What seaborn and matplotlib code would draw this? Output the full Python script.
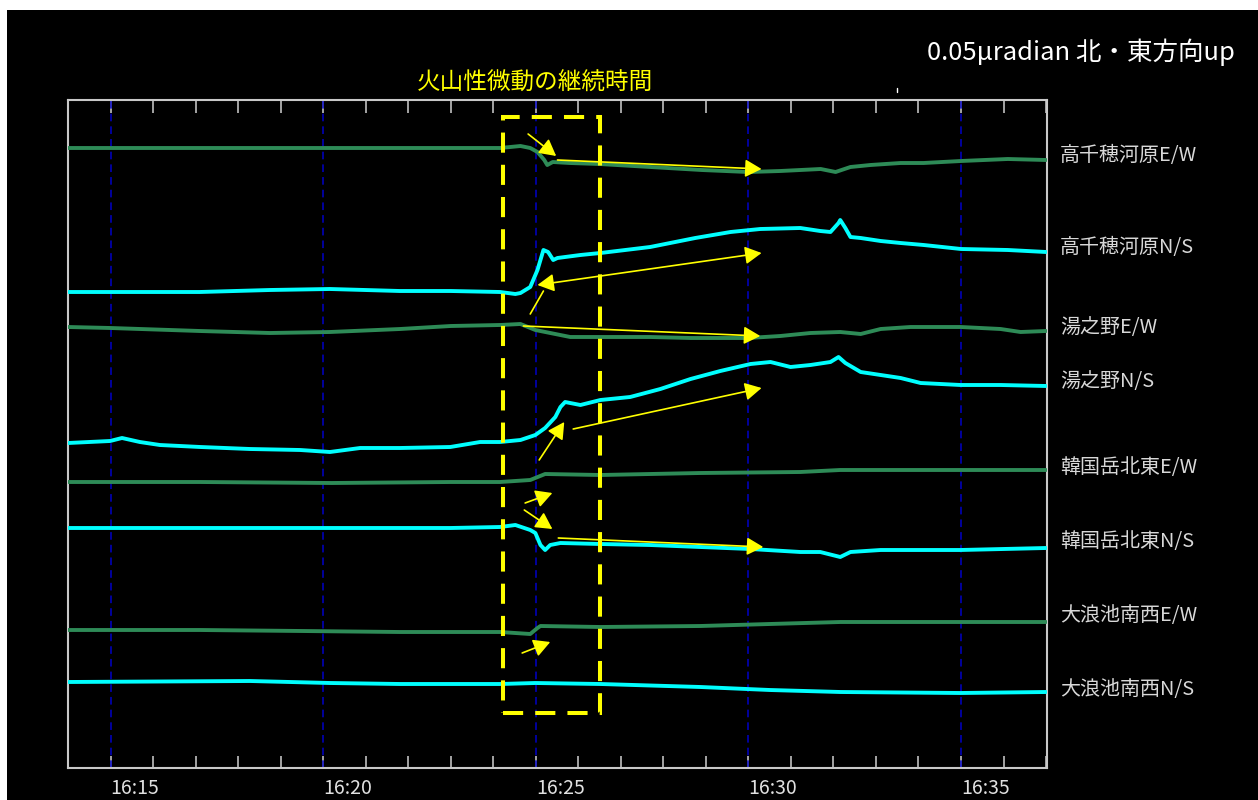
import numpy as np
import pandas as pd
import matplotlib
matplotlib.use("Agg")
import matplotlib.pyplot as plt
import seaborn as sns
from matplotlib.patches import Rectangle, FancyArrowPatch
from matplotlib.lines import Line2D
from matplotlib.ticker import MultipleLocator, FixedLocator

sns.set_style("dark")
plt.rcParams['font.family'] = ['Noto Sans CJK JP', 'DejaVu Sans']

# ---------------- data (minutes after 16:00, tilt in arbitrary display units, up = N/E) ----
STATIONS = ["高千穂河原E/W", "高千穂河原N/S", "湯之野E/W", "湯之野N/S",
            "韓国岳北東E/W", "韓国岳北東N/S", "大浪池南西E/W", "大浪池南西N/S"]

T1 = [14.0, 15.0, 17.1, 19.5, 21.8, 24.16, 24.64, 24.87, 25.04, 25.2, 25.27, 25.4, 25.8,
      26.5, 27.7, 28.9, 30.0, 30.75, 31.7, 32.05, 32.4, 32.87, 33.58, 34.12, 35.0, 36.1, 37.0]
V1 = [0, 0, 0, 0, 0, 0, 2, 0, -4, -12, -17, -14, -15, -16, -19, -22, -24, -23, -21, -24,
      -19, -17, -15, -15, -13, -11, -12]

T2 = [14.0, 15.0, 17.1, 18.75, 20.16, 21.8, 23.0, 24.16, 24.52, 24.64, 24.87, 25.04, 25.18,
      25.29, 25.41, 25.51, 26.05, 26.52, 27.69, 28.75, 29.58, 30.28, 31.22, 31.69, 31.93,
      32.12, 32.16, 32.28, 32.40, 32.64, 33.11, 33.58, 34.12, 35.0, 36.1, 37.0]
V2 = [0, 0, 0, 2, 3, 1, 1, 0, -2, -1, 5, 22, 42, 40, 32, 34, 37, 39, 45, 54, 60, 63, 64, 61,
      60, 69, 72, 64, 55, 54, 51, 49, 47, 43, 42, 40]

T3 = [14.0, 15.0, 17.1, 18.75, 20.16, 21.81, 23.0, 24.16, 24.64, 24.99, 25.81, 26.52, 27.69,
      28.64, 30.0, 30.75, 31.46, 32.16, 32.64, 33.11, 33.81, 34.99, 35.93, 36.4, 37.0]
V3 = [0, -1, -4, -6, -5, -2, 1, 2, 3, -3, -10, -10, -10, -11, -11, -9, -6, -5, -7, -2, 0, 0,
      -2, -5, -4]

T4 = [14.0, 14.99, 15.27, 15.69, 16.16, 17.11, 18.28, 19.46, 20.16, 20.87, 21.81, 22.99,
      23.69, 24.16, 24.64, 24.99, 25.22, 25.46, 25.58, 25.69, 26.05, 26.52, 27.22, 27.93,
      28.64, 29.34, 30.05, 30.52, 30.99, 31.46, 31.93, 32.12, 32.28, 32.64, 33.11, 33.58,
      34.05, 34.99, 35.93, 37.0]
V4 = [0, 2, 5, 1, -2, -4, -6, -7, -9, -5, -5, -4, 1, 1, 3, 8, 15, 26, 36, 41, 38, 43, 46, 54,
      64, 72, 79, 81, 76, 78, 81, 86, 80, 71, 68, 65, 60, 58, 58, 57]

T5 = [14.0, 17.1, 20.2, 23.0, 24.16, 24.87, 25.22, 26.52, 28.87, 31.22, 32.16, 37.0]
V5 = [0, 0, -1, 0, 0, 2, 8, 7, 9, 10, 12, 12]

T6 = [14.0, 17.1, 20.2, 23.0, 24.16, 24.52, 24.87, 24.99, 25.11, 25.22, 25.34, 25.58, 26.52,
      27.69, 28.87, 30.05, 31.22, 31.69, 32.16, 32.40, 33.11, 34.99, 37.0]
V6 = [0, 0, 0, 0, 1, 3, -2, -5, -17, -22, -17, -15, -16, -17, -19, -21, -24, -24, -29, -24,
      -22, -22, -20]

T7 = [14.0, 17.1, 19.5, 21.8, 24.16, 24.87, 25.04, 25.11, 26.52, 28.87, 30.5, 32.16, 34.99, 37.0]
V7 = [0, 0, -1, -2, -2, -4, 2, 4, 3, 4, 6, 8, 8, 8]

T8 = [14.0, 18.28, 20.16, 21.81, 24.16, 24.99, 26.52, 28.87, 30.5, 32.16, 34.99, 37.0]
V8 = [0, 1, -1, -2, -2, -1, -2, -5, -8, -10, -11, -10]

TIMES = [T1, T2, T3, T4, T5, T6, T7, T8]
VALUES = [V1, V2, V3, V4, V5, V6, V7, V8]

XTICK_MIN = [15, 20, 25, 30, 35]
XTICK_LABELS = ["16:15", "16:20", "16:25", "16:30", "16:35"]

TREMOR_START, TREMOR_END = 24.235, 26.52   # 火山性微動の継続時間 (minutes after 16:00)

# ---------------- layout / style ----------------
OFFSETS = [620, 476, 441, 325, 286, 240, 138, 86]       # trace baselines on the panel
LABEL_Y = [613, 520, 440, 386, 300, 226, 153, 79]        # right-hand label positions
GREEN, CYAN = "#2e8b57", "#00ffff"
COLORS = [GREEN, CYAN] * 4

# arrows: (t0, y0, t1, y1, style)
ARROWS = [
    (24.82, 634, 25.48, 612, "-|>"),
    (25.51, 608, 30.31, 599, "-|>"),
    (25.04, 483, 30.31, 515, "<|-|>"),
    (24.87, 454, 25.18, 477, "-"),
    (24.71, 442, 30.28, 432, "-|>"),
    (25.08, 308, 25.67, 346, "-|>"),
    (25.88, 339, 30.31, 380, "-|>"),
    (24.75, 265, 25.39, 275, "-|>"),
    (24.73, 258, 25.39, 239, "-|>"),
    (25.53, 230, 30.35, 221, "-|>"),
    (24.68, 115, 25.34, 126, "-|>"),
]

W, H = 1258, 800
fig = plt.figure(figsize=(W / 100, H / 100), dpi=100)
fig.patch.set_facecolor("white")
fig.add_artist(Rectangle((7 / W, 0), 1 - 7 / W, 790 / H, transform=fig.transFigure,
                         facecolor="black", edgecolor="none", zorder=-10))

ax = fig.add_axes([68 / W, 32 / H, 978.5 / W, 668 / H])
ax.set_facecolor("black")

rows = []
for name, t, v, off in zip(STATIONS, TIMES, VALUES, OFFSETS):
    for ti, vi in zip(t, v):
        rows.append({"minute": ti, "level": off + vi, "station": name})
df = pd.DataFrame(rows)

# 5-minute dashed blue guides
for m in XTICK_MIN:
    ax.axvline(m, color="#0000c8", lw=1.1, ls=(0, (5, 3.3)), zorder=1)

sns.lineplot(data=df, x="minute", y="level", hue="station", hue_order=STATIONS,
             palette=dict(zip(STATIONS, COLORS)), estimator=None, sort=False,
             legend=False, linewidth=2.8, ax=ax, zorder=3)

ax.set_xlim(14, 37.01)
ax.set_ylim(0, 668)
ax.set_xlabel("")
ax.set_ylabel("")
ax.set_yticks([])
ax.grid(False)

ax.xaxis.set_major_locator(FixedLocator(XTICK_MIN))
ax.xaxis.set_minor_locator(MultipleLocator(1))
ax.set_xticklabels(XTICK_LABELS, ha="left")
ax.tick_params(axis="x", which="both", direction="in", top=True, bottom=True,
               length=9, width=1.1, color="#d0d0d0", labelcolor="#e0e0e0",
               labelsize=14, pad=7)
for sp in ax.spines.values():
    sp.set_color("#c8c8c8")
    sp.set_linewidth(1.5)
    sp.set_visible(True)

# tremor-duration box
ax.add_patch(Rectangle((TREMOR_START, 55), TREMOR_END - TREMOR_START, 596, fill=False,
                       edgecolor="#ffff00", lw=2.9, ls=(0, (5, 3)), zorder=5))

for t0, y0, t1, y1, st in ARROWS:
    if st == "-":
        ax.plot([t0, t1], [y0, y1], color="#ffff00", lw=1.2, zorder=6)
    else:
        style = st + ",head_length=1.0,head_width=0.54"
        ax.add_patch(FancyArrowPatch((t0, y0), (t1, y1), arrowstyle=style,
                                     mutation_scale=10, color="#ffff00", lw=1.2,
                                     shrinkA=0, shrinkB=0, zorder=6))

# right-hand station labels
for name, ly in zip(STATIONS, LABEL_Y):
    ax.text(1.0138, ly, name, transform=ax.get_yaxis_transform(), ha="left", va="center",
            color="#d8d8d8", fontsize=14.4, clip_on=False)

fig.text(535 / W, 1 - 83 / H, "火山性微動の継続時間", ha="center", va="center",
         color="#ffff00", fontsize=17)
fig.text(1235 / W, 1 - 52 / H, "0.05μradian 北・東方向up", ha="right", va="center",
         color="white", fontsize=18.4)
fig.add_artist(Line2D([897 / W, 897 / W], [1 - 88 / H, 1 - 92 / H], color="white", lw=1,
                      transform=fig.transFigure))

fig.savefig("out.png", dpi=100, facecolor=fig.get_facecolor())
